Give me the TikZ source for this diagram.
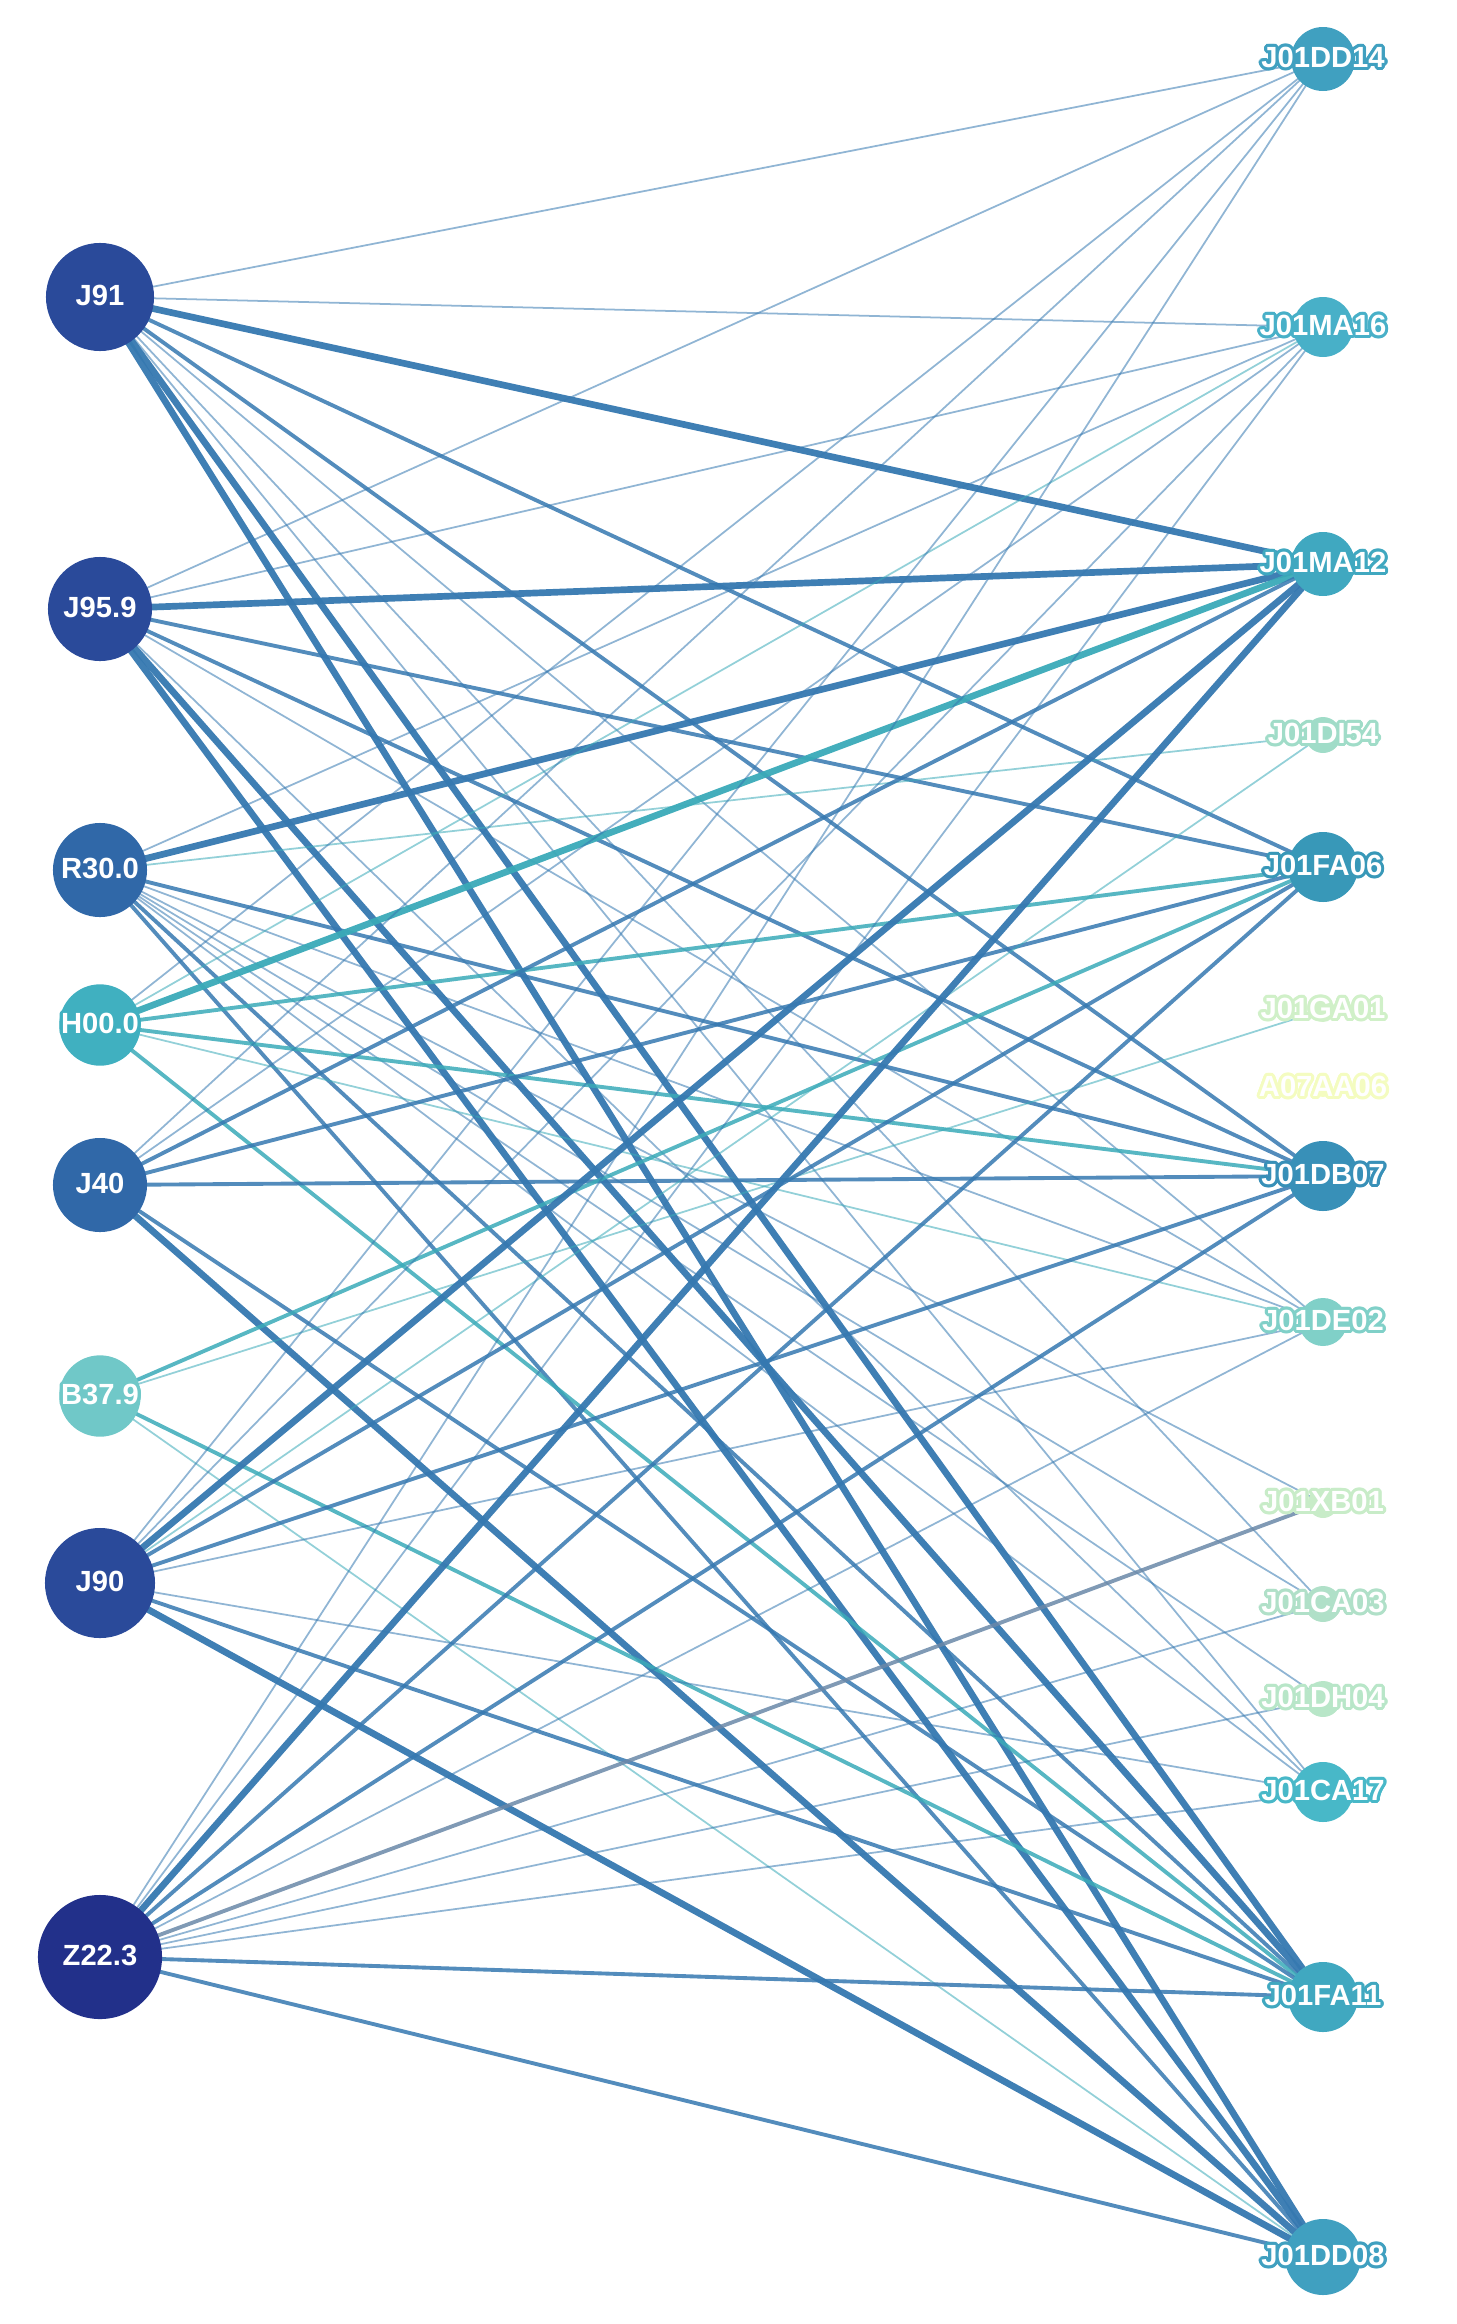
\documentclass[tikz,border=0pt]{standalone}
\usepackage{fontspec}
\setmainfont{Liberation Sans}
\usepackage{contour}
\contourlength{0.9pt}
\usetikzlibrary{backgrounds}
\definecolor{cA}{HTML}{2A4A9A}
\definecolor{cB}{HTML}{3068A8}
\definecolor{cC}{HTML}{40B0C0}
\definecolor{cD}{HTML}{70C8C8}
\definecolor{cE}{HTML}{22308A}
\definecolor{eb}{HTML}{3578B0}
\definecolor{et}{HTML}{3AAAB8}
\definecolor{eg}{HTML}{6A88A8}
\tikzset{
  dx/.style={circle,draw=none,inner sep=0pt,font=\bfseries\fontsize{8.3}{9}\selectfont,text=white},
  dt/.style={inner sep=0pt,font=\bfseries\fontsize{8.3}{9}\selectfont,text=white},
  lw/.style={line width=0.5pt,opacity=0.55},
  mw/.style={line width=1.1pt,opacity=0.85},
  hw/.style={line width=1.9pt,opacity=0.95},
}
\newcommand{\dlab}[2]{\contour{#1}{#2}}

\begin{document}
\begin{tikzpicture}[x=0.01cm,y=-0.01cm]
  \useasboundingbox (0,0) rectangle (1456,2324);

  % diagnoses
  \node[dx,fill=cA,minimum size=1.08cm] (j91)  at (100,297)  {\dlab{cA}{J91}};
  \node[dx,fill=cA,minimum size=1.04cm] (j959) at (100,609)  {\dlab{cA}{J95.9}};
  \node[dx,fill=cB,minimum size=0.94cm] (r300) at (100,870)  {\dlab{cB}{R30.0}};
  \node[dx,fill=cC,minimum size=0.66cm] (h000) at (100,1025) {\dlab{cC}{H00.0}};
  \node[dx,fill=cB,minimum size=0.94cm] (j40)  at (100,1185) {\dlab{cB}{J40}};
  \node[dx,fill=cD,minimum size=0.42cm] (b379) at (100,1396) {\dlab{cD}{B37.9}};
  \node[dx,fill=cA,minimum size=1.10cm] (j90)  at (100,1583) {\dlab{cA}{J90}};
  \node[dx,fill=cE,minimum size=1.24cm] (z223) at (100,1957) {\dlab{cE}{Z22.3}};

  % drugs
  \foreach \n/\y/\s/\c/\t in {
    dd14/59/64/40A0C0/J01DD14, ma16/327/60/48B0C8/J01MA16,
    ma12/564/64/40A8C0/J01MA12, di54/735/36/A0DCC8/J01DI54,
    fa06/867/70/3898B8/J01FA06, ga01/1010/24/D0F0C8/J01GA01,
    aa06/1088/18/F4FCC0/A07AA06, db07/1176/70/3890B8/J01DB07,
    de02/1322/48/80D0C8/J01DE02, xb01/1503/30/C8ECC8/J01XB01,
    ca03/1604/36/B0E0C8/J01CA03, dh04/1699/36/B8E6C8/J01DH04,
    ca17/1792/60/48B8C8/J01CA17, fa11/1997/70/40A8C0/J01FA11,
    dd08/2257/76/40A0C0/J01DD08}
  {
    \definecolor{nc}{HTML}{\c}
    \node[dx,fill=nc,minimum size=\s*0.01cm] (\n) at (1323,\y) {};
    \node[dt] (\n-t) at (\n) {\dlab{nc}{\t}};
  }

  \begin{scope}[on background layer]
    \foreach \a/\b/\w/\c in {
      j91/dd14/lw/eb, j91/ma16/lw/eb, j91/ma12/hw/eb, j91/fa06/mw/eb,
      j91/db07/mw/eb, j91/de02/lw/eb, j91/ca17/lw/eb, j91/ca03/lw/eb,
      j91/fa11/hw/eb, j91/dd08/hw/eb,
      j959/dd14/lw/eb, j959/ma16/lw/eb, j959/ma12/hw/eb, j959/fa06/mw/eb,
      j959/db07/mw/eb, j959/de02/lw/eb, j959/ca17/lw/eb, j959/fa11/hw/eb,
      j959/dd08/hw/eb,
      r300/ma16/lw/eb, r300/ma12/hw/eb, r300/db07/mw/eb, r300/de02/lw/eb,
      r300/xb01/lw/eb, r300/ca03/lw/eb, r300/dh04/lw/eb, r300/ca17/lw/eb,
      r300/fa11/mw/eb, r300/dd08/mw/eb, r300/di54/lw/et,
      h000/dd14/lw/eb, h000/ma16/lw/et, h000/ma12/hw/et, h000/fa06/mw/et,
      h000/db07/mw/et, h000/de02/lw/et, h000/fa11/mw/et,
      j40/dd14/lw/eb, j40/ma16/lw/eb, j40/ma12/mw/eb, j40/fa06/mw/eb,
      j40/db07/mw/eb, j40/fa11/mw/eb, j40/dd08/hw/eb,
      b379/fa06/mw/et, b379/ga01/lw/et, b379/fa11/mw/et, b379/dd08/lw/et,
      j90/dd14/lw/eb, j90/ma16/lw/eb, j90/ma12/hw/eb, j90/fa06/mw/eb,
      j90/db07/mw/eb, j90/de02/lw/eb, j90/ca17/lw/eb, j90/fa11/mw/eb,
      j90/dd08/hw/eb, j90/di54/lw/et,
      z223/dd14/lw/eb, z223/ma16/lw/eb, z223/ma12/hw/eb, z223/fa06/mw/eb,
      z223/db07/mw/eb, z223/de02/lw/eb, z223/xb01/mw/eg, z223/ca03/lw/eb,
      z223/dh04/lw/eb, z223/ca17/lw/eb, z223/fa11/mw/eb, z223/dd08/mw/eb}
    {
      \draw[\w,draw=\c] (\a.center) -- (\b.center);
    }
  \end{scope}
\end{tikzpicture}
\end{document}
